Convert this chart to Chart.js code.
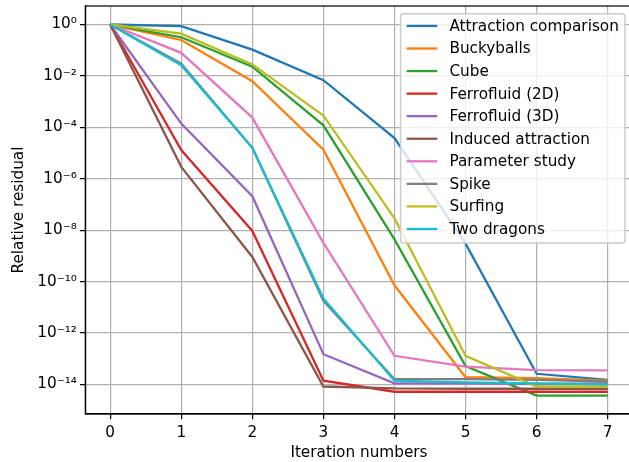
<!DOCTYPE html>
<html><head><meta charset="utf-8">
<script src="https://cdn.jsdelivr.net/npm/chart.js@4"></script>
<style>html,body{margin:0;padding:0;overflow:hidden;background:#fff}</style>
</head><body>
<canvas id="c" width="634" height="462" style="width:634px;height:462px;display:block"></canvas>
<script>
const iterations = [0, 1, 2, 3, 4, 5, 6, 7];
const xTicks = [0, 1, 2, 3, 4, 5, 6, 7];
const yTickExponents = [0, -2, -4, -6, -8, -10, -12, -14];

const seriesNames = ["Attraction comparison", "Buckyballs", "Cube", "Ferrofluid (2D)", "Ferrofluid (3D)",
  "Induced attraction", "Parameter study", "Spike", "Surfing", "Two dragons"];
const seriesColors = ["#1f77b4", "#ff7f0e", "#2ca02c", "#d62728", "#9467bd",
  "#8c564b", "#e377c2", "#7f7f7f", "#bcbd22", "#17becf"];

const attractionComparison = [1, 0.86, 0.105, 6.8e-3, 3.8e-5, 3.0e-9, 2.6e-14, 1.5e-14];
const buckyballs           = [1, 0.25, 6.2e-3, 1.35e-5, 7.2e-11, 1.9e-14, 1.75e-14, 1.4e-14];
const cube                 = [1, 0.32, 0.023, 1.2e-4, 4.4e-9, 5.2e-14, 3.7e-15, 3.7e-15];
const ferrofluid2D         = [1, 1.3e-5, 9.3e-9, 1.4e-14, 5.2e-15, 5.2e-15, 5.2e-15, 5.2e-15];
const ferrofluid3D         = [1, 1.4e-4, 2.1e-7, 1.5e-13, 1.1e-14, 1.1e-14, 1.05e-14, 1.1e-14];
const inducedAttraction    = [1, 2.9e-6, 9.1e-10, 8.3e-15, 7.0e-15, 6.8e-15, 6.8e-15, 6.8e-15];
const parameterStudy       = [1, 0.079, 2.4e-4, 3.2e-9, 1.3e-13, 4.9e-14, 3.6e-14, 3.5e-14];
const spike                = [1, 0.030, 1.6e-5, 1.8e-11, 1.6e-14, 1.6e-14, 1.5e-14, 1.3e-14];
const surfing              = [1, 0.44, 0.028, 2.9e-4, 2.9e-8, 1.3e-13, 8.3e-15, 8.3e-15];
const twoDragons           = [1, 0.026, 1.6e-5, 2.2e-11, 1.4e-14, 1.2e-14, 1.1e-14, 1.0e-14];

const seriesValues = [attractionComparison, buckyballs, cube, ferrofluid2D, ferrofluid3D,
  inducedAttraction, parameterStudy, spike, surfing, twoDragons];

const FS = 15.28;
const LW = 2.29;
Chart.defaults.font.family = "'DejaVu Sans'";
Chart.defaults.font.size = FS;
Chart.defaults.color = '#000';

const SUP = {'0':'⁰','1':'¹','2':'²','3':'³','4':'⁴','5':'⁵','6':'⁶','7':'⁷','8':'⁸','9':'⁹','-':'⁻'};
function supText(n) { return String(n).split('').map(ch => SUP[ch]).join(''); }

const framePlugin = {
  id: 'frame',
  afterDatasetsDraw(chart) {
    const ca = chart.chartArea, c = chart.ctx;
    c.save();
    c.strokeStyle = '#000';
    c.lineWidth = 1.22;
    c.strokeRect(ca.left, ca.top, ca.right - ca.left, ca.bottom - ca.top);
    c.restore();
  }
};

const legendPlugin = {
  id: 'boxLegend',
  afterDraw(chart) {
    const ca = chart.chartArea, c = chart.ctx;
    const ds = chart.data.datasets;
    c.save();
    c.font = FS + "px 'DejaVu Sans'";
    const em = FS, pad = 0.4 * em, hl = 2 * em, htp = 0.8 * em;
    const maxW = Math.max(...ds.map(d => c.measureText(d.label).width));
    const w = pad + hl + htp + maxW + pad;
    const right = ca.right - 0.5 * em;
    const left = right - w;
    const top = ca.top + 0.5 * em;
    const pitch = 22.56, first = 12.3;
    const h = first + (ds.length - 1) * pitch + 14;
    c.beginPath();
    c.roundRect(left, top, w, h, 3);
    c.fillStyle = 'rgba(255,255,255,0.8)';
    c.fill();
    c.strokeStyle = '#cccccc';
    c.lineWidth = 1.5;
    c.stroke();
    ds.forEach((d, i) => {
      const y = top + first + i * pitch;
      c.beginPath();
      c.moveTo(left + pad, y);
      c.lineTo(left + pad + hl, y);
      c.strokeStyle = d.borderColor;
      c.lineWidth = LW;
      c.stroke();
      c.fillStyle = '#000';
      c.textBaseline = 'middle';
      c.textAlign = 'left';
      c.fillText(d.label, left + pad + hl + htp, y + 1);
    });
    c.restore();
  }
};

const n = seriesValues.length;
new Chart(document.getElementById('c'), {
  type: 'line',
  data: {
    datasets: seriesValues.map((vals, i) => ({
      label: seriesNames[i],
      data: iterations.map((x, j) => ({x: x, y: vals[j]})),
      borderColor: seriesColors[i],
      backgroundColor: seriesColors[i],
      borderWidth: LW,
      pointRadius: 0,
      fill: false,
      tension: 0,
      order: n - i
    }))
  },
  options: {
    responsive: false,
    animation: false,
    layout: {padding: {top: 6, right: 1.4, left: 0, bottom: 0}},
    plugins: {legend: {display: false}, tooltip: {enabled: false}},
    scales: {
      x: {
        type: 'linear', min: -0.35, max: 7.35,
        afterBuildTicks: s => { s.ticks = xTicks.map(v => ({value: v})); },
        afterFit: s => { s.height = 48; s.paddingLeft = 0; s.paddingRight = 0; },
        grid: {color: '#b0b0b0', lineWidth: 1.22, tickLength: 5.35, tickColor: '#000', tickWidth: 1.22},
        border: {color: '#000', width: 1.22},
        ticks: {padding: 5, maxRotation: 0, autoSkip: false, callback: v => String(v)},
        title: {display: true, text: 'Iteration numbers', padding: {top: 0, bottom: 0}}
      },
      y: {
        type: 'logarithmic', min: Math.pow(10, -15.15), max: Math.pow(10, 0.72),
        afterBuildTicks: s => { s.ticks = yTickExponents.map(e => ({value: Math.pow(10, e)})); },
        afterFit: s => { s.width = 85.3; s.paddingTop = 0; s.paddingBottom = 0; },
        grid: {color: '#b0b0b0', lineWidth: 1.22, tickLength: 5.35, tickColor: '#000', tickWidth: 1.22},
        border: {color: '#000', width: 1.22},
        ticks: {padding: 3, autoSkip: false,
          callback: v => '10' + supText(Math.round(Math.log10(v)))},
        title: {display: true, text: 'Relative residual', padding: {top: 10, bottom: 0}}
      }
    }
  },
  plugins: [framePlugin, legendPlugin]
});
</script>
</body></html>
